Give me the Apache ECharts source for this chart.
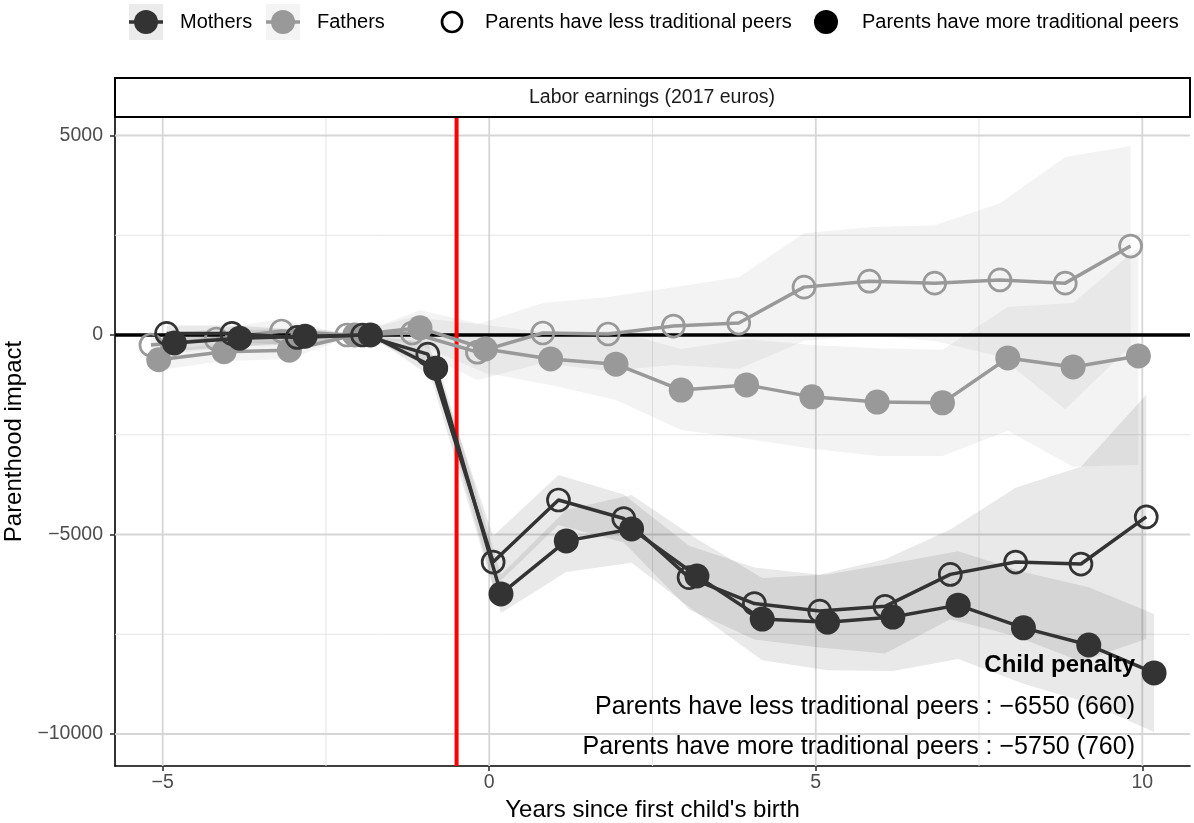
<!DOCTYPE html>
<html><head><meta charset="utf-8">
<script src="https://cdn.jsdelivr.net/npm/echarts@6/dist/echarts.min.js"></script>
<style>html,body{margin:0;padding:0;background:#fff}#c{width:1194px;height:823px}</style>
</head><body><div id="c"></div>
<script>
// ---------- data ----------
const years = [-5,-4,-3,-2,-1,0,1,2,3,4,5,6,7,8,9,10];
const xTicks = [-5,0,5,10];
const xMinor = [-2.5,2.5,7.5];
const yTicks = [-10000,-5000,0,5000];
const yMinor = [-7500,-2500,2500];
// Fathers, less traditional peers (open grey)
const fathersLess      = [-250,-100,100,0,50,-430,50,25,225,300,1200,1350,1300,1380,1300,2230];
const fathersLessUpper = [0,150,400,0,450,270,800,950,1200,1450,2550,2700,2750,3300,4460,4740];
const fathersLessLower = [-500,-350,-200,0,-350,-1130,-700,-900,-750,-850,-150,0,-150,-540,-1860,-280];
// Fathers, more traditional peers (filled grey)
const fathersMore      = [-620,-420,-380,0,180,-350,-600,-730,-1380,-1250,-1550,-1680,-1700,-575,-800,-525];
const fathersMoreUpper = [-400,-200,-150,0,620,250,50,100,-350,-100,-250,-330,-370,700,800,2200];
const fathersMoreLower = [-880,-650,-600,0,-250,-950,-1250,-1630,-2380,-2600,-2850,-3030,-3030,-2400,-3300,-3250];
// Mothers, less traditional peers (open dark)
const mothersLess      = [40,40,-60,0,-480,-5690,-4135,-4600,-6080,-6730,-6920,-6800,-6000,-5690,-5740,-4560];
const mothersLessUpper = [240,240,140,0,-180,-5040,-3510,-4000,-5280,-5830,-6010,-5620,-4875,-3830,-3300,-1500];
const mothersLessLower = [-160,-160,-260,0,-780,-6340,-4760,-5200,-6880,-7630,-7830,-7980,-7125,-7550,-8180,-7620];
// Mothers, more traditional peers (filled dark)
const mothersMore      = [-200,-80,-30,0,-830,-6490,-5160,-4860,-6040,-7120,-7200,-7070,-6770,-7340,-7770,-8470];
const mothersMoreUpper = [0,120,170,0,-530,-6010,-4380,-4010,-5110,-6090,-6000,-5720,-5420,-5940,-6320,-6990];
const mothersMoreLower = [-400,-280,-230,0,-1130,-6970,-5940,-5710,-6970,-8150,-8400,-8420,-8120,-8740,-9220,-9950];
const eventLine = -0.5;
const penaltyLabels = ['Parents have less traditional peers : \u22126550 (660)',
                       'Parents have more traditional peers : \u22125750 (760)'];

// ---------- layout / style ----------
const X_MIN = -5.73, X_MAX = 10.73, Y_MIN = -10802, Y_MAX = 5464;
const FONT = 'Liberation Sans, Arial, Helvetica, sans-serif';
const DARK = '#333333', GREY = '#999999';
const fmt = v => (v < 0 ? '\u2212' + Math.abs(v) : String(v));

const groups = [
  {name:'Fathers less', est:fathersLess, up:fathersLessUpper, lo:fathersLessLower, off:-0.18, col:GREY, open:true, fill:'rgba(153,153,153,0.12)', z:4},
  {name:'Fathers more', est:fathersMore, up:fathersMoreUpper, lo:fathersMoreLower, off:-0.06, col:GREY, open:false, fill:'rgba(153,153,153,0.12)', z:4},
  {name:'Mothers less', est:mothersLess, up:mothersLessUpper, lo:mothersLessLower, off:0.06, col:DARK, open:true, fill:'rgba(51,51,51,0.105)', z:5},
  {name:'Mothers more', est:mothersMore, up:mothersMoreUpper, lo:mothersMoreLower, off:0.18, col:DARK, open:false, fill:'rgba(51,51,51,0.105)', z:5}
];

const series = [];
// grid lines
series.push({
  type:'custom', silent:true, z:1, data:[[0,0]],
  renderItem:(p, api) => {
    const ch = [];
    xMinor.forEach(v => { const a = api.coord([v,Y_MIN]), b = api.coord([v,Y_MAX]);
      ch.push({type:'line', shape:{x1:a[0],y1:a[1],x2:b[0],y2:b[1]}, style:{stroke:'#e4e4e4', lineWidth:1}}); });
    yMinor.forEach(v => { const a = api.coord([X_MIN,v]), b = api.coord([X_MAX,v]);
      ch.push({type:'line', shape:{x1:a[0],y1:a[1],x2:b[0],y2:b[1]}, style:{stroke:'#e4e4e4', lineWidth:1}}); });
    xTicks.forEach(v => { const a = api.coord([v,Y_MIN]), b = api.coord([v,Y_MAX]);
      ch.push({type:'line', shape:{x1:a[0],y1:a[1],x2:b[0],y2:b[1]}, style:{stroke:'#d6d6d6', lineWidth:1.8}}); });
    yTicks.forEach(v => { const a = api.coord([X_MIN,v]), b = api.coord([X_MAX,v]);
      ch.push({type:'line', shape:{x1:a[0],y1:a[1],x2:b[0],y2:b[1]}, style:{stroke:'#d6d6d6', lineWidth:1.8}}); });
    return {type:'group', children:ch};
  }
});
// ribbons
groups.forEach(g => {
  series.push({
    type:'custom', silent:true, z:2, data:[[0,0]],
    renderItem:(p, api) => {
      const pts = [];
      years.forEach((y,i) => pts.push(api.coord([y+g.off, g.up[i]])));
      for (let i = years.length-1; i >= 0; i--) pts.push(api.coord([years[i]+g.off, g.lo[i]]));
      return {type:'polygon', shape:{points:pts}, style:{fill:g.fill}};
    }
  });
});
// reference lines
series.push({
  type:'custom', silent:true, z:3, data:[[0,0]],
  renderItem:(p, api) => {
    const a = api.coord([X_MIN,0]), b = api.coord([X_MAX,0]);
    const c = api.coord([eventLine,Y_MIN]), d = api.coord([eventLine,Y_MAX]);
    return {type:'group', children:[
      {type:'line', shape:{x1:a[0],y1:a[1],x2:b[0],y2:b[1]}, style:{stroke:'#000', lineWidth:3.5}},
      {type:'line', shape:{x1:c[0],y1:c[1],x2:d[0],y2:d[1]}, style:{stroke:'#ff0000', lineWidth:4}}
    ]};
  }
});
// lines + points
groups.forEach(g => {
  series.push({
    type:'line', name:g.name, z:g.z, silent:true, animation:false,
    data: years.map((y,i) => [y+g.off, g.est[i]]),
    lineStyle:{color:g.col, width:3.5},
    symbol:'circle',
    symbolSize: g.open ? 22 : 25,
    itemStyle: g.open ? {color:'rgba(0,0,0,0)', borderColor:g.col, borderWidth:2.7, opacity:1}
                      : {color:g.col, borderWidth:0, opacity:1}
  });
});

const chart = echarts.init(document.getElementById('c'), null, {renderer:'canvas'});
chart.setOption({
  animation:false,
  backgroundColor:'#fff',
  textStyle:{fontFamily:FONT},
  grid:{left:115, right:4, top:117, bottom:57, containLabel:false, outerBoundsMode:'none'},
  xAxis:{
    type:'value', min:X_MIN, max:X_MAX,
    name:"Years since first child's birth", nameLocation:'middle', nameGap:28,
    nameTextStyle:{fontSize:24, color:'#000', fontFamily:FONT, verticalAlign:'top'},
    axisLine:{show:true, onZero:false, lineStyle:{color:'#000', width:1.6}},
    axisTick:{show:true, customValues:xTicks, length:5, lineStyle:{color:'#333', width:1.6}},
    axisLabel:{customValues:xTicks, formatter:fmt, fontSize:19.5, color:'#4d4d4d', margin:7, fontFamily:FONT},
    splitLine:{show:false}
  },
  yAxis:{
    type:'value', min:Y_MIN, max:Y_MAX,
    name:'Parenthood impact', nameLocation:'middle', nameGap:89, nameRotate:90,
    nameTextStyle:{fontSize:24, color:'#000', fontFamily:FONT},
    axisLine:{show:true, onZero:false, lineStyle:{color:'#000', width:1.6}},
    axisTick:{show:true, customValues:yTicks, length:5, lineStyle:{color:'#333', width:1.6}},
    axisLabel:{customValues:yTicks, formatter:fmt, fontSize:19.5, color:'#4d4d4d', margin:12, fontFamily:FONT},
    splitLine:{show:false}
  },
  series: series,
  graphic:[
    // facet strip
    {type:'rect', shape:{x:115, y:78, width:1075, height:39}, style:{fill:'#fff', stroke:'#000', lineWidth:2}, z:10},
    {type:'text', x:652, y:98, style:{text:'Labor earnings (2017 euros)', font:'19.5px '+FONT, fill:'#1a1a1a', align:'center', verticalAlign:'middle'}, z:11},
    // legend
    {type:'rect', shape:{x:129, y:4, width:34, height:36}, style:{fill:'#ebebeb'}, z:10},
    {type:'line', shape:{x1:129, y1:22, x2:163, y2:22}, style:{stroke:DARK, lineWidth:3.5}, z:11},
    {type:'circle', shape:{cx:146, cy:22, r:12}, style:{fill:DARK}, z:12},
    {type:'text', x:180, y:22, style:{text:'Mothers', font:'20px '+FONT, fill:'#000', verticalAlign:'middle'}, z:11},
    {type:'rect', shape:{x:266, y:4, width:34, height:36}, style:{fill:'#f4f4f4'}, z:10},
    {type:'line', shape:{x1:266, y1:22, x2:300, y2:22}, style:{stroke:GREY, lineWidth:3.5}, z:11},
    {type:'circle', shape:{cx:283, cy:22, r:12}, style:{fill:GREY}, z:12},
    {type:'text', x:317, y:22, style:{text:'Fathers', font:'20px '+FONT, fill:'#000', verticalAlign:'middle'}, z:11},
    {type:'circle', shape:{cx:452, cy:22, r:10}, style:{fill:'none', stroke:'#000', lineWidth:2.7}, z:12},
    {type:'text', x:485, y:22, style:{text:'Parents have less traditional peers', font:'20px '+FONT, fill:'#000', verticalAlign:'middle'}, z:11},
    {type:'circle', shape:{cx:826, cy:22, r:12}, style:{fill:'#000'}, z:12},
    {type:'text', x:862, y:22, style:{text:'Parents have more traditional peers', font:'20px '+FONT, fill:'#000', verticalAlign:'middle'}, z:11},
    // annotation
    {type:'text', x:1135, y:665, style:{text:'Child penalty', font:'bold 24px '+FONT, fill:'#000', align:'right', verticalAlign:'middle'}, z:20},
    {type:'text', x:1135, y:707, style:{text:penaltyLabels[0], font:'25px '+FONT, fill:'#000', align:'right', verticalAlign:'middle'}, z:20},
    {type:'text', x:1135, y:747, style:{text:penaltyLabels[1], font:'25px '+FONT, fill:'#000', align:'right', verticalAlign:'middle'}, z:20}
  ]
});
</script></body></html>
